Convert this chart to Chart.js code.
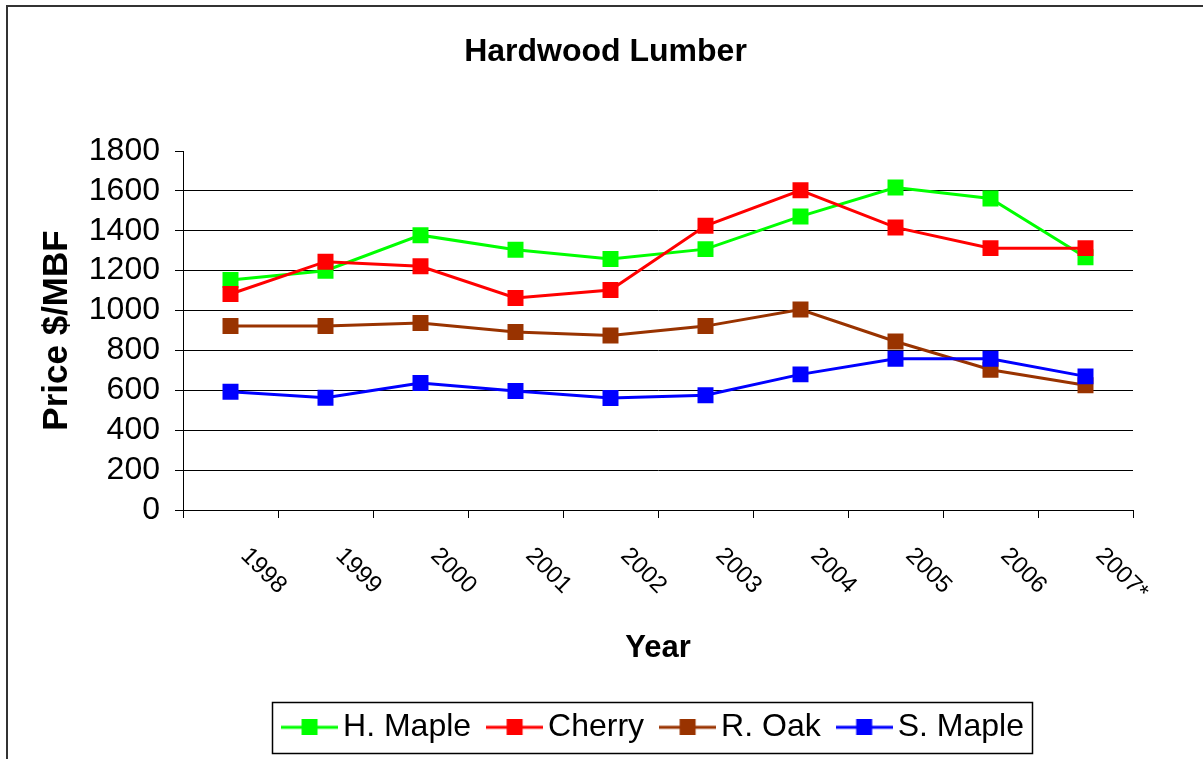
<!DOCTYPE html>
<html>
<head>
<meta charset="utf-8">
<title>Hardwood Lumber</title>
<script src="https://cdn.jsdelivr.net/npm/chart.js@4.4.1/dist/chart.umd.min.js"></script>
<style>
    html, body { margin: 0; padding: 0; background: #fff; }
    #wrap { width: 1203px; height: 759px; position: relative; }
</style>
</head>
<body>
<div id="wrap"><canvas id="lumberChart"></canvas></div>
<script>
// Chart data (prices in $/MBF)
const years = ['1998', '1999', '2000', '2001', '2002', '2003', '2004', '2005', '2006', '2007*'];
const hardMaple = [1153, 1200, 1378, 1305, 1258, 1308, 1472, 1617, 1562, 1267];
const cherry = [1083, 1245, 1222, 1063, 1103, 1425, 1603, 1417, 1313, 1313];
const redOak = [923, 923, 938, 893, 875, 922, 1005, 845, 703, 625];
const softMaple = [593, 563, 637, 597, 562, 575, 680, 758, 758, 670];
const seriesNames = ['H. Maple', 'Cherry', 'R. Oak', 'S. Maple'];
const seriesColors = ['#00FF00', '#FF0000', '#993300', '#0000FF'];
const yMin = 0, yMax = 1800, yStep = 200;

Chart.defaults.font.family = "'Liberation Sans', Arial, sans-serif";
Chart.defaults.color = '#000';

const LEGEND_PAD = 26;
const LEGEND_BOX = 35;

// small line + square marker used as legend symbol
function legendSymbol(color) {
    const c = document.createElement('canvas');
    c.width = 57;
    c.height = 16;
    const g = c.getContext('2d');
    g.fillStyle = color;
    g.fillRect(0, 6.5, 57, 3);
    g.fillRect(20.5, 0, 16, 16);
    return c;
}

const chartFrame = {
    id: 'chartFrame',
    afterDraw(chart) {
        const ctx = chart.ctx;
        ctx.save();
        // outer border (top and left only)
        ctx.strokeStyle = '#333';
        ctx.lineWidth = 2;
        ctx.beginPath();
        ctx.moveTo(7, 759);
        ctx.lineTo(7, 6);
        ctx.lineTo(1203, 6);
        ctx.stroke();

        // rotated category labels
        const xs = chart.scales.x;
        ctx.fillStyle = '#000';
        ctx.font = "24px 'Liberation Sans', Arial, sans-serif";
        ctx.textAlign = 'left';
        ctx.textBaseline = 'middle';
        years.forEach((label, i) => {
            const x = xs.getPixelForValue(i);
            ctx.save();
            ctx.translate(x + 14, 552);
            ctx.rotate(Math.PI / 4);
            ctx.fillText(label, 0, 0);
            ctx.restore();
        });

        // box around the legend
        const lg = chart.legend;
        const startX = (lg.left + LEGEND_PAD + lg.right - lg.lineWidths[0]) / 2;
        const left = startX + LEGEND_BOX / 2 - 28.5 - 9;
        const right = startX + lg.lineWidths[0] - LEGEND_PAD + 8;
        const cy = lg.top + LEGEND_PAD + 16;
        ctx.strokeStyle = '#000';
        ctx.lineWidth = 1.5;
        ctx.strokeRect(Math.round(left) + 0.5, Math.round(cy - 25.6) + 0.5, Math.round(right - left), 51);
        ctx.restore();
    }
};

const datasets = [hardMaple, cherry, redOak, softMaple].map((values, i) => ({
    label: seriesNames[i],
    data: values,
    borderColor: seriesColors[i],
    backgroundColor: seriesColors[i],
    borderWidth: 3,
    pointStyle: 'rect',
    pointRadius: 11.3,
    pointBorderWidth: 0,
    tension: 0,
    order: 3 - i
}));

const ctx = document.getElementById('lumberChart').getContext('2d');
const lumberChart = new Chart(ctx, {
    type: 'line',
    data: {
        labels: years,
        datasets: datasets
    },
    options: {
        responsive: true,
        maintainAspectRatio: false,
        animation: false,
        layout: {
            padding: { left: 8, right: 0, top: 0, bottom: 5.7 }
        },
        scales: {
            x: {
                offset: true,
                grid: {
                    offset: true,
                    drawOnChartArea: false,
                    drawTicks: true,
                    tickLength: 8,
                    color: '#000'
                },
                border: { display: true, color: '#000', width: 1 },
                ticks: { display: false },
                title: {
                    display: true,
                    text: 'Year',
                    font: { size: 31, weight: 'bold' },
                    padding: { top: 0, bottom: 18.7 }
                },
                afterFit: scale => { scale.height = 175.3; }
            },
            y: {
                min: yMin,
                max: yMax,
                ticks: {
                    stepSize: yStep,
                    autoSkip: false,
                    padding: 15,
                    font: { size: 32 },
                    callback: value => String(value)
                },
                grid: {
                    tickLength: 8,
                    color: c => (c.tick && c.tick.value === yMax) ? 'rgba(0,0,0,0)' : '#000',
                    tickColor: '#000'
                },
                border: { display: true, color: '#000', width: 1 },
                title: {
                    display: true,
                    text: 'Price $/MBF',
                    font: { size: 35, weight: 'bold' },
                    padding: { top: 28, bottom: 0 }
                },
                afterFit: scale => { scale.width = 175; }
            },
            // empty spacer on the right so the title centres over the whole figure
            spacer: {
                type: 'linear',
                position: 'right',
                display: true,
                grid: { display: false },
                border: { display: false },
                ticks: { display: false },
                afterFit: scale => { scale.width = 70; }
            }
        },
        plugins: {
            title: {
                display: true,
                text: 'Hardwood Lumber',
                font: { size: 32, weight: 'bold' },
                color: '#000',
                padding: { top: 32.8, bottom: 79.8 }
            },
            legend: {
                position: 'bottom',
                fullSize: false,
                labels: {
                    usePointStyle: true,
                    pointStyleWidth: LEGEND_BOX,
                    padding: LEGEND_PAD,
                    color: '#000',
                    font: { size: 32 },
                    generateLabels: chart => chart.data.datasets.map((ds, i) => ({
                        text: ds.label,
                        fillStyle: ds.backgroundColor,
                        strokeStyle: ds.borderColor,
                        lineWidth: 0,
                        pointStyle: legendSymbol(ds.borderColor),
                        hidden: false,
                        datasetIndex: i
                    }))
                }
            },
            tooltip: { enabled: false }
        }
    },
    plugins: [chartFrame]
});
</script>
</body>
</html>
